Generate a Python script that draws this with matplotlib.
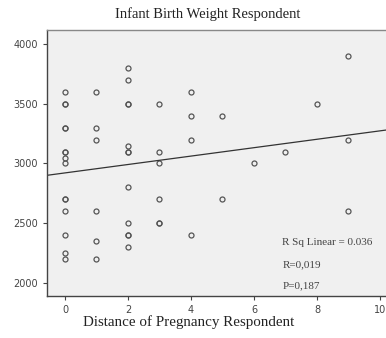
import numpy as np
import matplotlib
matplotlib.use("Agg")
import matplotlib.pyplot as plt

# distance of pregnancy (years) and infant birth weight (g)
# (repeated pairs are the bolder rings in the chart)
distance = [0, 0, 0, 0, 0, 0, 0, 0, 0, 0, 0, 0, 0, 0, 0,
            1, 1, 1, 1, 1, 1,
            2, 2, 2, 2, 2, 2, 2, 2, 2, 2, 2, 2,
            3, 3, 3, 3, 3, 3,
            4, 4, 4, 4,
            5, 5, 6, 7, 8, 9, 9, 9]
weight = [3600, 3500, 3500, 3300, 3300, 3100, 3100, 3050, 3000, 2700, 2700,
          2600, 2400, 2250, 2200,
          3600, 3300, 3200, 2600, 2350, 2200,
          3800, 3700, 3500, 3500, 3150, 3100, 2800, 2500, 2400, 2400, 2300, 3100,
          3500, 3100, 3000, 2700, 2500, 2500,
          3600, 3400, 3200, 2400,
          3400, 2700, 3000, 3100, 3500, 3900, 3200, 2600]

# fitted line as drawn in the chart
fit_intercept = 2921
fit_slope = 35.2

stats_lines = ["R Sq Linear = 0.036", "R=0,019", "P=0,187"]
xticks = [0, 2, 4, 6, 8, 10]
yticks = [2000, 2500, 3000, 3500, 4000]

W, H = 386, 338
fig = plt.figure(figsize=(W / 100, H / 100), dpi=100)
ax = fig.add_axes([47 / W, 1 - 296 / H, 350 / W, 266 / H])
ax.set_facecolor("#f0f0f0")

ax.plot(distance, weight, linestyle="none", marker="o", markersize=3.6,
        markerfacecolor="none", markeredgecolor="#555555", markeredgewidth=0.9)

xs = np.array([-0.57, 11.0])
ax.plot(xs, fit_intercept + fit_slope * xs, color="#333333", linewidth=0.9)

ax.set_xlim(-0.57, 10.54)
ax.set_ylim(1891, 4117)
ax.set_xticks(xticks)
ax.set_yticks(yticks)
ax.tick_params(labelsize=7, colors="#444444", length=3, width=0.8)
for s in ["left", "bottom", "top"]:
    ax.spines[s].set_color("#444444")
    ax.spines[s].set_linewidth(1.0)
ax.spines["top"].set_color("#888888")
ax.spines["right"].set_visible(False)

for i, t in enumerate(stats_lines):
    ax.text(6.9, 2335 - i * 180, t, fontsize=8, family="Liberation Serif",
            color="#444444", va="center")

fig.text(208 / W, 1 - 14 / H, "Infant Birth Weight Respondent", ha="center",
         va="center", fontsize=10.5, family="Liberation Serif", color="#222222")
fig.text(189 / W, 1 - 322 / H, "Distance of Pregnancy Respondent", ha="center",
         va="center", fontsize=10.8, family="Liberation Serif", color="#222222")

fig.savefig("out.png", dpi=100)
